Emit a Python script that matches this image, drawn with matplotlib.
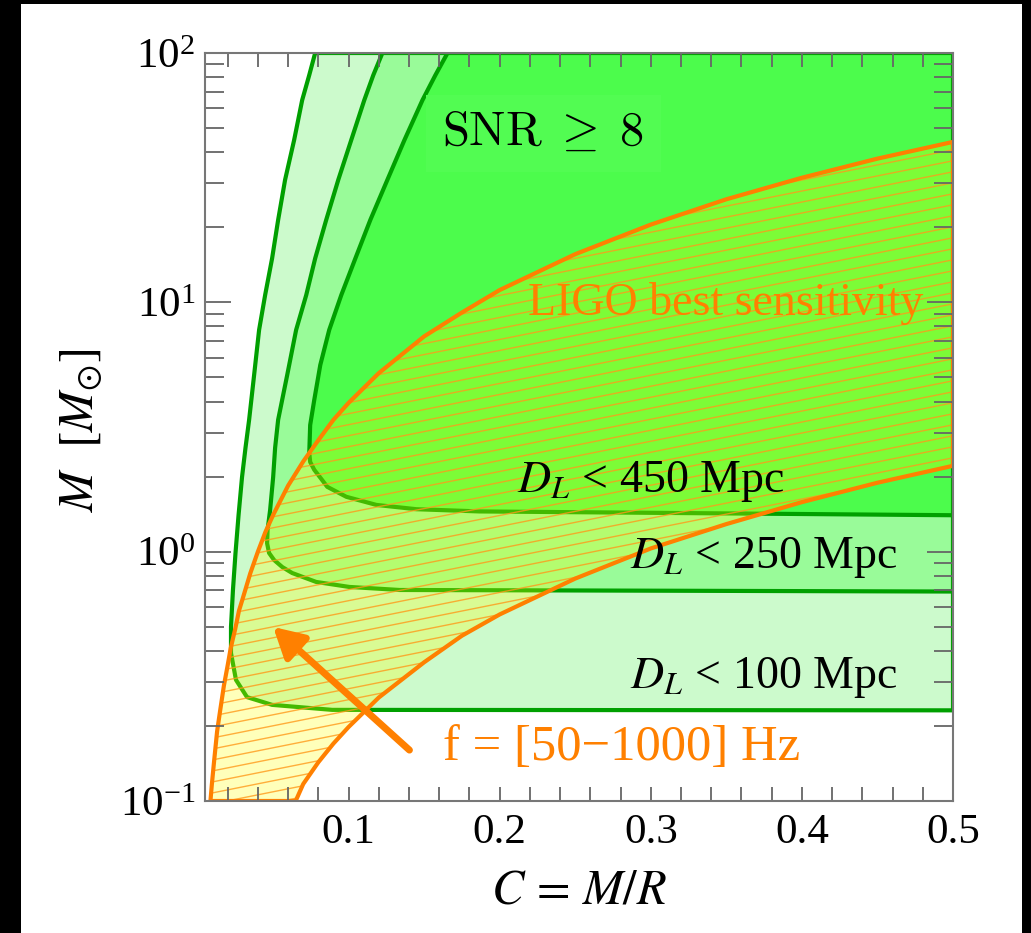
import matplotlib
matplotlib.use("Agg")
import matplotlib.pyplot as plt
from matplotlib.patches import Polygon, Rectangle
from matplotlib.collections import LineCollection
import numpy as np

plt.rcParams["font.family"] = ["Liberation Serif", "DejaVu Serif"]
plt.rcParams["mathtext.fontset"] = "stix"

# SNR >= 8 boundaries (compactness C, mass M)
c_100 = [0.0779, 0.0740, 0.0693, 0.0640, 0.0580, 0.0534, 0.0494, 0.0448, 0.0408,
         0.0375, 0.0342, 0.0318, 0.0295, 0.0272, 0.0252, 0.0235, 0.0222, 0.0222,
         0.0255, 0.0328, 0.0494, 0.0892, 0.5]
m_100 = [100, 81.6, 64.7, 44.8, 31.0, 21.4, 15.0, 10.7, 7.75,
         5.11, 3.38, 2.61, 1.99, 1.40, 0.99, 0.702, 0.499, 0.392,
         0.306, 0.261, 0.243, 0.232, 0.231]

c_250 = [0.1224, 0.1164, 0.1104, 0.1018, 0.0932, 0.0852, 0.0779, 0.0720, 0.0653,
         0.0594, 0.0534, 0.0514, 0.0501, 0.0481, 0.0464, 0.0461, 0.0474, 0.0507,
         0.0561, 0.0627, 0.0786, 0.1005, 0.1337, 0.5]
m_250 = [100, 81.6, 64.7, 44.8, 31.0, 21.4, 15.0, 10.7, 7.75,
         5.11, 3.38, 2.61, 1.99, 1.47, 1.22, 1.08, 0.988, 0.926,
         0.868, 0.821, 0.756, 0.722, 0.702, 0.692]

c_450 = [0.1655, 0.1575, 0.1489, 0.1370, 0.1257, 0.1144, 0.1045, 0.0952, 0.0872,
         0.0813, 0.0773, 0.0746, 0.0740, 0.0746, 0.0773, 0.0819, 0.0859, 0.0985,
         0.1184, 0.1449, 0.1867, 0.5]
m_450 = [100, 81.6, 64.7, 44.8, 31.0, 21.4, 15.0, 10.7, 7.75,
         5.61, 4.06, 3.22, 2.49, 2.29, 2.13, 1.96, 1.82, 1.66,
         1.54, 1.48, 1.45, 1.40]

# f = 1000 Hz (upper) and f = 50 Hz (lower) edges of the LIGO band
c_f_hi = [0.0086, 0.0095, 0.011, 0.013, 0.015, 0.0175, 0.02, 0.022, 0.025, 0.0275,
          0.03, 0.035, 0.04, 0.045, 0.05, 0.06, 0.07, 0.08, 0.09, 0.1,
          0.12, 0.15, 0.175, 0.2, 0.25, 0.3, 0.35, 0.4, 0.45, 0.5]
m_f_hi = [0.10, 0.116, 0.144, 0.19, 0.23, 0.29, 0.35, 0.41, 0.49, 0.58,
          0.65, 0.82, 1.0, 1.2, 1.4, 1.84, 2.3, 2.8, 3.38, 3.95,
          5.2, 7.3, 9.1, 11.2, 15.6, 20.5, 25.9, 31.6, 37.7, 44.0]
c_f_lo = [0.065, 0.07, 0.08, 0.09, 0.1, 0.12, 0.15, 0.175, 0.2, 0.25,
          0.3, 0.35, 0.4, 0.45, 0.5]
m_f_lo = [0.10, 0.117, 0.143, 0.17, 0.198, 0.26, 0.36, 0.46, 0.56, 0.78,
          1.03, 1.29, 1.58, 1.89, 2.21]

x_ticks = [0.1, 0.2, 0.3, 0.4, 0.5]
x_tick_labels = ["0.1", "0.2", "0.3", "0.4", "0.5"]

XMIN, XMAX = 0.005, 0.5
YMIN, YMAX = 0.1, 100

GREEN_EDGE = "#00a000"
ORANGE = "#ff8000"

fig = plt.figure(figsize=(10.31, 9.33), dpi=100, facecolor="black")
fig.patches.append(Rectangle((21 / 1031, 0), 1001 / 1031, 929 / 933,
                             transform=fig.transFigure, facecolor="white",
                             edgecolor="none", zorder=-10))
ax = fig.add_axes([205 / 1031, 1 - 801 / 933, 748 / 1031, 748 / 933])
ax.set_xlim(XMIN, XMAX)
ax.set_ylim(YMIN, YMAX)
ax.set_yscale("log")

# detectable regions, widest first
regions = [(c_100, m_100, "#ccfacc"), (c_250, m_250, "#99fb99"), (c_450, m_450, "#4cfc4c")]
for i, (cs, ms, col) in enumerate(regions):
    pts = list(zip(cs, ms)) + [(XMAX, YMAX), (cs[0], YMAX)]
    ax.add_patch(Polygon(pts, closed=True, facecolor=col, edgecolor=GREEN_EDGE,
                         lw=3, zorder=1 + 0.1 * i, joinstyle="round"))

# frequency band: translucent yellow with thin orange hatching
band = list(zip(c_f_hi, m_f_hi)) + list(zip(c_f_lo, m_f_lo))[::-1]
overlay = Polygon(band, closed=True, facecolor="yellow", alpha=0.27,
                  edgecolor="none", zorder=1.5)
ax.add_patch(overlay)
clip = Polygon(band, closed=True, facecolor="none", edgecolor="none")
ax.add_patch(clip)
offsets = np.arange(-0.3, 1.05, 11 / 748)
segs = [[(0, b), (1, b + 0.2)] for b in offsets]
hatch = LineCollection(segs, colors="#ff9a1a", linewidths=1.0, alpha=0.8,
                       transform=ax.transAxes, zorder=1.6)
hatch.set_clip_path(clip)
ax.add_collection(hatch)
ax.add_patch(Polygon(band, closed=True, facecolor="none", edgecolor=ORANGE,
                     lw=3, zorder=1.7, joinstyle="round"))

# labels
ax.text(0.452, 0.893, r"$\mathrm{SNR}\;\geq\;8$", transform=ax.transAxes,
        fontsize=35, ha="center", va="center", math_fontfamily="cm",
        bbox=dict(facecolor="#52fc52", edgecolor="none", pad=12), zorder=3)
ax.text(0.417, 0.413, r"$D_L$ < 450 Mpc", transform=ax.transAxes,
        fontsize=33, ha="left", va="baseline", zorder=3)
ax.text(0.568, 0.3115, r"$D_L$ < 250 Mpc", transform=ax.transAxes,
        fontsize=33, ha="left", va="baseline", zorder=3)
ax.text(0.568, 0.151, r"$D_L$ < 100 Mpc", transform=ax.transAxes,
        fontsize=33, ha="left", va="baseline", zorder=3)
ax.text(0.432, 0.650, "LIGO best sensitivity", transform=ax.transAxes,
        fontsize=33, ha="left", va="baseline", color=ORANGE, zorder=3)
ax.text(0.318, 0.055, "f = [50\u22121000] Hz", transform=ax.transAxes,
        fontsize=36.5, ha="left", va="baseline", color=ORANGE, zorder=3)
ax.annotate("", xy=(0.0501, 0.499), xytext=(0.1403, 0.160),
            arrowprops=dict(arrowstyle="-|>,head_length=0.45,head_width=0.25",
                            color=ORANGE, lw=5, mutation_scale=40,
                            shrinkA=0, shrinkB=0), zorder=3)

# axes styling
ax.set_xticks(x_ticks)
ax.set_xticklabels(x_tick_labels)
ax.set_xticks(np.arange(0.02, 0.5, 0.02), minor=True)
ax.set_axisbelow(False)
ax.tick_params(which="both", direction="in", top=True, right=True,
               color="#666666", width=1.3, labelsize=31)
ax.tick_params(axis="x", which="both", length=10, pad=9)
ax.tick_params(axis="y", which="major", length=19, pad=7)
ax.tick_params(axis="y", which="minor", length=14)
for s in ax.spines.values():
    s.set_color("#777777")
    s.set_linewidth(1.5)
    s.set_zorder(4)

fig.text(579 / 1031, 1 - 892 / 933, r"$C\, =\, M/R$", fontsize=35,
         ha="center", va="center")
fig.text(82 / 1031, 1 - 430 / 933, r"$M\ \ [M_{\odot}]$", fontsize=35,
         ha="center", va="center", rotation=90)

fig.savefig("out.png", dpi=100, facecolor=fig.get_facecolor())
